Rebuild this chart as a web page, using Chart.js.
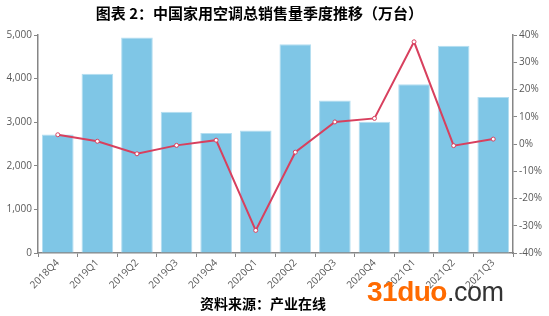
<!DOCTYPE html>
<html lang="zh-CN">
<head>
<meta charset="UTF-8">
<title>中国家用空调总销售量季度推移</title>
<script src="https://cdn.jsdelivr.net/npm/chart.js@4.4.1/dist/chart.umd.min.js"></script>
<style>
  body { margin: 0; background: #fff; }
  .wrap { position: relative; width: 549px; height: 316px; font-family: "Noto Sans CJK SC", sans-serif; }
  .title { position: absolute; left: 0; width: 519px; top: 2px; text-align: center; font-size: 15px; font-weight: bold; color: #000; }
  .source { position: absolute; left: 163px; width: 200px; top: 293px; text-align: center; font-size: 14px; font-weight: bold; color: #000; line-height: 20px; }
  .mark { position: absolute; left: 367px; top: 276px; font-family: "Liberation Sans", Arial, sans-serif; font-weight: bold; font-size: 28px; line-height: 32px; letter-spacing: -0.5px; }
  .mark .a { color: #ff6a00; }
  .mark .b { color: #333; font-weight: normal; font-size: 27px; }
  canvas { position: absolute; left: 0; top: 0; }
</style>
</head>
<body>
<div class="wrap">
  <canvas id="c" width="549" height="316"></canvas>
  <div class="title">图表 2：中国家用空调总销售量季度推移（万台）</div>
  <div class="source">资料来源：产业在线</div>
  <div class="mark"><span class="a">31duo</span><span class="b">.com</span></div>
</div>
<script>
// 季度
var quarters = ['2018Q4', '2019Q1', '2019Q2', '2019Q3', '2019Q4', '2020Q1',
                '2020Q2', '2020Q3', '2020Q4', '2021Q1', '2021Q2', '2021Q3'];
// 销售量（万台）
var sales = [2720, 4110, 4940, 3240, 2750, 2810, 4790, 3500, 3010, 3870, 4755, 3580];
// 同比（%）
var growth = [3.4, 1.0, -3.6, -0.5, 1.4, -31.7, -3.0, 8.1, 9.4, 37.5, -0.6, 1.8];

var axisColor = '#868686';
var labelColor = '#595959';

var ctx = document.getElementById('c').getContext('2d');
new Chart(ctx, {
  data: {
    labels: quarters,
    datasets: [{
      type: 'line',
      data: growth,
      yAxisID: 'y2',
      borderColor: '#d8405e',
      borderWidth: 2,
      pointRadius: 2,
      pointBackgroundColor: '#fff',
      pointBorderColor: '#d8405e',
      pointBorderWidth: 1,
      tension: 0,
      order: 0
    }, {
      type: 'bar',
      data: sales,
      yAxisID: 'y',
      backgroundColor: '#7fc6e6',
      borderColor: '#b4def1',
      borderWidth: 1,
      barPercentage: 0.8,
      categoryPercentage: 1,
      order: 1
    }]
  },
  options: {
    responsive: false,
    animation: false,
    layout: { padding: { top: 35, left: 0, right: 0, bottom: 0 } },
    plugins: { legend: { display: false }, tooltip: { enabled: false } },
    scales: {
      x: {
        afterFit: function (s) { s.height = 63; },
        grid: { drawOnChartArea: false, drawTicks: true, tickLength: 4, color: axisColor },
        border: { color: axisColor, width: 1.5 },
        ticks: { color: labelColor, font: { family: 'Open Sans', size: 10 }, maxRotation: 45, minRotation: 45, padding: 0 }
      },
      y: {
        position: 'left',
        min: 0, max: 5000,
        afterFit: function (s) { s.width = 38; },
        grid: { drawOnChartArea: false, drawTicks: true, tickLength: 4, color: axisColor },
        border: { color: axisColor, width: 1.5 },
        ticks: {
          stepSize: 1000, color: labelColor, padding: 2,
          font: { family: 'Open Sans', size: 10 },
          callback: function (v) { return v.toLocaleString('en-US'); }
        }
      },
      y2: {
        position: 'right',
        min: -40, max: 40,
        afterFit: function (s) { s.width = 36; },
        grid: { drawOnChartArea: false, drawTicks: true, tickLength: 4, color: axisColor },
        border: { color: axisColor, width: 1.5 },
        ticks: {
          stepSize: 10, color: labelColor, padding: 2,
          font: { family: 'Open Sans', size: 10 },
          callback: function (v) { return v + '%'; }
        }
      }
    }
  }
});
</script>
</body>
</html>
